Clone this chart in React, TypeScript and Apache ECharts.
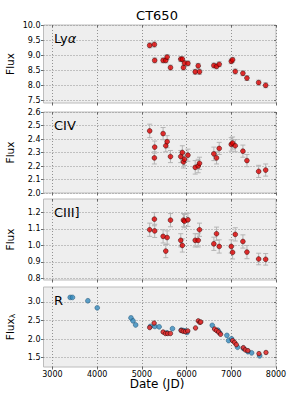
import React, { useEffect, useRef } from "react";
import * as echarts from "echarts";

const xTicks = [3000, 4000, 5000, 6000, 7000, 8000];

const uvDates = [5175, 5280, 5287, 5475, 5535, 5565, 5640, 5870, 5905, 5930, 5953, 6030, 6193, 6260, 6289, 6610, 6670, 6730, 6999, 7029, 7089, 7260, 7350, 7612, 7769];

const lyaFlux = [9.32, 9.35, 8.82, 8.82, 8.82, 8.93, 8.58, 8.86, 8.86, 8.58, 8.73, 8.72, 8.44, 8.64, 8.44, 8.65, 8.62, 8.69, 8.79, 8.84, 8.45, 8.39, 8.23, 8.08, 7.99];
const lyaErr = [0.08, 0.08, 0.08, 0.08, 0.08, 0.08, 0.08, 0.08, 0.08, 0.08, 0.08, 0.08, 0.08, 0.08, 0.08, 0.08, 0.08, 0.08, 0.08, 0.08, 0.08, 0.08, 0.08, 0.08, 0.08];

const civFlux = [2.46, 2.26, 2.34, 2.44, 2.35, 2.38, 2.27, 2.27, 2.30, 2.23, 2.25, 2.28, 2.19, 2.20, 2.22, 2.29, 2.26, 2.33, 2.36, 2.37, 2.35, 2.31, 2.24, 2.16, 2.17];
const civErr = [0.05, 0.045, 0.045, 0.045, 0.045, 0.045, 0.045, 0.045, 0.05, 0.045, 0.045, 0.045, 0.05, 0.05, 0.045, 0.05, 0.045, 0.045, 0.05, 0.045, 0.045, 0.045, 0.045, 0.045, 0.045];

const ciiiFlux = [1.094, 1.158, 1.087, 1.054, 0.965, 1.047, 1.152, 1.03, 0.999, 1.152, 1.146, 1.154, 1.03, 1.03, 1.094, 1.009, 1.07, 0.993, 0.993, 0.957, 1.066, 1.023, 0.959, 0.917, 0.915];
const ciiiErr = [0.04, 0.04, 0.04, 0.04, 0.04, 0.04, 0.04, 0.04, 0.04, 0.04, 0.04, 0.04, 0.04, 0.04, 0.04, 0.04, 0.04, 0.04, 0.04, 0.04, 0.04, 0.04, 0.04, 0.035, 0.035];

const rBlueDates = [3397, 3448, 3793, 4002, 4757, 4802, 4861, 5190, 5290, 5386, 5560, 5684, 5879, 5924, 5975, 6010, 6574, 6700, 6740, 6902, 6940, 7007, 7141, 7270, 7372, 7455, 7635];
const rBlueFlux = [3.12, 3.12, 3.03, 2.84, 2.57, 2.49, 2.38, 2.34, 2.34, 2.33, 2.17, 2.28, 2.24, 2.23, 2.22, 2.18, 2.37, 2.24, 2.17, 2.10, 1.96, 2.01, 1.78, 1.75, 1.66, 1.63, 1.55];

const rRedDates = [5175, 5274, 5475, 5527, 5578, 5639, 5879, 5924, 5975, 6027, 6200, 6260, 6296, 6318, 6626, 6670, 6715, 6760, 7029, 7074, 7112, 7269, 7314, 7372, 7619, 7776];
const rRedFlux = [2.31, 2.43, 2.19, 2.15, 2.15, 2.15, 2.23, 2.21, 2.20, 2.22, 2.30, 2.49, 2.45, 2.46, 2.27, 2.23, 2.19, 2.13, 1.96, 1.91, 1.85, 1.77, 1.71, 1.69, 1.61, 1.64];

const yTicks1 = [7.5, 8.0, 8.5, 9.0, 9.5, 10.0];
const yTicks2 = [2.0, 2.1, 2.2, 2.3, 2.4, 2.5, 2.6];
const yTicks3 = [0.8, 0.9, 1.0, 1.1, 1.2];
const yTicks4 = [1.5, 2.0, 2.5, 3.0];

const FONT = "DejaVu Sans";

const panels = [
  { top: 25, height: 78, min: 7.4, max: 10.0, ticks: yTicks1 },
  { top: 112, height: 81, min: 2.0, max: 2.6, ticks: yTicks2 },
  { top: 199, height: 81, min: 0.79, max: 1.28, ticks: yTicks3 },
  { top: 287, height: 80, min: 1.25, max: 3.4, ticks: yTicks4 },
];

const LEFT = 43.5;
const RIGHT_EDGE = 276;

function renderErr(params: any, api: any) {
  const x = api.value(0);
  const y = api.value(1);
  const e = api.value(2);
  const top = api.coord([x, y + e]);
  const bot = api.coord([x, y - e]);
  const cap = 2.5;
  const style = { stroke: "#b5b5b5", lineWidth: 1, fill: null };
  return {
    type: "group",
    children: [
      { type: "line", shape: { x1: top[0], y1: top[1], x2: bot[0], y2: bot[1] }, style },
      { type: "line", shape: { x1: top[0] - cap, y1: top[1], x2: top[0] + cap, y2: top[1] }, style },
      { type: "line", shape: { x1: bot[0] - cap, y1: bot[1], x2: bot[0] + cap, y2: bot[1] }, style },
    ],
  };
}

function gridLines(yTicks: number[]) {
  return {
    silent: true,
    symbol: ["none", "none"],
    z: 1,
    label: { show: false },
    emphasis: { disabled: true },
    lineStyle: { color: "#7a7a7a", width: 0.8, type: [1, 2] },
    data: [...xTicks.map((v) => ({ xAxis: v })), ...yTicks.map((v) => ({ yAxis: v }))],
  };
}

export default function App() {
  const ref = useRef<HTMLDivElement>(null);
  useEffect(() => {
    document.body.style.margin = "0";
    if (!ref.current) return;
    const chart = echarts.init(ref.current, undefined, { renderer: "svg" });

    const grids: any[] = [];
    const xAxes: any[] = [];
    const yAxes: any[] = [];
    panels.forEach((p, i) => {
      grids.push({
        left: LEFT,
        top: p.top,
        width: RIGHT_EDGE - LEFT,
        height: p.height,
        show: true,
        backgroundColor: "#eeeeee",
        borderColor: "#bcbcbc",
        borderWidth: 1,
      });
      const isLast = i === panels.length - 1;
      xAxes.push({
        type: "value",
        gridIndex: i,
        min: 2800,
        max: 8000,
        position: "bottom",
        axisLine: { show: false, onZero: false },
        axisTick: { show: true, inside: false, length: 2.5, customValues: xTicks, lineStyle: { color: "#444", width: 0.8 } },
        axisLabel: {
          show: isLast,
          customValues: xTicks,
          fontFamily: FONT,
          fontSize: 8,
          color: "#000",
          margin: 3,
          formatter: (v: number) => String(v),
        },
        splitLine: { show: false },
      });
      xAxes.push({
        type: "value",
        gridIndex: i,
        min: 2800,
        max: 8000,
        position: "top",
        axisLine: { show: false, onZero: false },
        axisTick: { show: true, inside: true, length: 2, customValues: xTicks, lineStyle: { color: "#444", width: 0.8 } },
        axisLabel: { show: false },
        splitLine: { show: false },
      });
      yAxes.push({
        type: "value",
        gridIndex: i,
        min: p.min,
        max: p.max,
        position: "left",
        axisLine: { show: false, onZero: false },
        axisTick: { show: true, inside: false, length: 2.5, customValues: p.ticks, lineStyle: { color: "#444", width: 0.8 } },
        axisLabel: {
          customValues: p.ticks,
          fontFamily: FONT,
          fontSize: 8,
          color: "#000",
          margin: 3,
          formatter: (v: number) => v.toFixed(1),
        },
        splitLine: { show: false },
      });
      yAxes.push({
        type: "value",
        gridIndex: i,
        min: p.min,
        max: p.max,
        position: "right",
        axisLine: { show: false, onZero: false },
        axisTick: { show: true, inside: true, length: 2, customValues: p.ticks, lineStyle: { color: "#444", width: 0.8 } },
        axisLabel: { show: false },
        splitLine: { show: false },
      });
    });

    const redStyle = { color: "#e00000", borderColor: "#2a0000", borderWidth: 0.6 };
    const blueStyle = { color: "#348abd", borderColor: "#1d4e6e", borderWidth: 0.6 };

    const uvSets = [
      { flux: lyaFlux, err: lyaErr },
      { flux: civFlux, err: civErr },
      { flux: ciiiFlux, err: ciiiErr },
    ];
    const series: any[] = [];
    uvSets.forEach((s, i) => {
      series.push({
        type: "custom",
        xAxisIndex: 2 * i,
        yAxisIndex: 2 * i,
        renderItem: renderErr,
        encode: { x: 0, y: 1 },
        data: uvDates.map((d, k) => [d, s.flux[k], s.err[k]]),
        z: 2,
        silent: true,
        markLine: gridLines(panels[i].ticks),
      });
      series.push({
        type: "scatter",
        xAxisIndex: 2 * i,
        yAxisIndex: 2 * i,
        symbolSize: 4.8,
        itemStyle: redStyle,
        data: uvDates.map((d, k) => [d, s.flux[k]]),
        z: 3,
      });
    });
    series.push({
      type: "scatter",
      xAxisIndex: 6,
      yAxisIndex: 6,
      symbolSize: 4.8,
      itemStyle: blueStyle,
      data: rBlueDates.map((d, k) => [d, rBlueFlux[k]]),
      z: 3,
      markLine: gridLines(panels[3].ticks),
    });
    series.push({
      type: "scatter",
      xAxisIndex: 6,
      yAxisIndex: 6,
      symbolSize: 4.5,
      itemStyle: { ...redStyle, color: "#e23030", opacity: 0.9 },
      data: rRedDates.map((d, k) => [d, rRedFlux[k]]),
      z: 4,
    });

    const labelNames = ["Ly", "CIV", "CIII]", "R"];
    const graphics: any[] = [
      {
        type: "text",
        x: 157,
        y: 15,
        style: { text: "CT650", font: `13px "${FONT}"`, fill: "#000", textAlign: "center", textVerticalAlign: "middle" },
      },
      {
        type: "text",
        x: 157,
        y: 384,
        style: { text: "Date (JD)", font: `12px "${FONT}"`, fill: "#000", textAlign: "center", textVerticalAlign: "middle" },
      },
    ];
    panels.forEach((p, i) => {
      if (i === 0) {
        graphics.push({
          type: "text",
          x: 54,
          y: p.top + 7,
          style: {
            text: "Ly{a|α}",
            fontFamily: FONT,
            fontSize: 13,
            fill: "#000",
            textAlign: "left",
            textVerticalAlign: "top",
            rich: { a: { fontFamily: FONT, fontSize: 13, fontStyle: "italic", fill: "#000" } },
          },
        });
      } else {
        graphics.push({
          type: "text",
          x: 54,
          y: p.top + 7,
          style: { text: labelNames[i], font: `13px "${FONT}"`, fill: "#000", textAlign: "left", textVerticalAlign: "top" },
        });
      }
      const cy = p.top + p.height / 2;
      graphics.push({
        type: "text",
        x: 10,
        y: cy,
        rotation: Math.PI / 2,
        style:
          i === 3
            ? {
                text: "Flux{s|λ}",
                fontFamily: FONT,
                fontSize: 10.5,
                fill: "#000",
                textAlign: "center",
                textVerticalAlign: "middle",
                rich: { s: { fontFamily: FONT, fontSize: 7.5, fill: "#000", padding: [5, 0, 0, 0] } },
              }
            : { text: "Flux", font: `10.5px "${FONT}"`, fill: "#000", textAlign: "center", textVerticalAlign: "middle" },
      });
    });

    chart.setOption({
      animation: false,
      backgroundColor: "#ffffff",
      grid: grids,
      xAxis: xAxes,
      yAxis: yAxes,
      series,
      graphic: graphics,
    });
    return () => chart.dispose();
  }, []);
  return <div ref={ref} style={{ width: 300, height: 400 }} />;
}
